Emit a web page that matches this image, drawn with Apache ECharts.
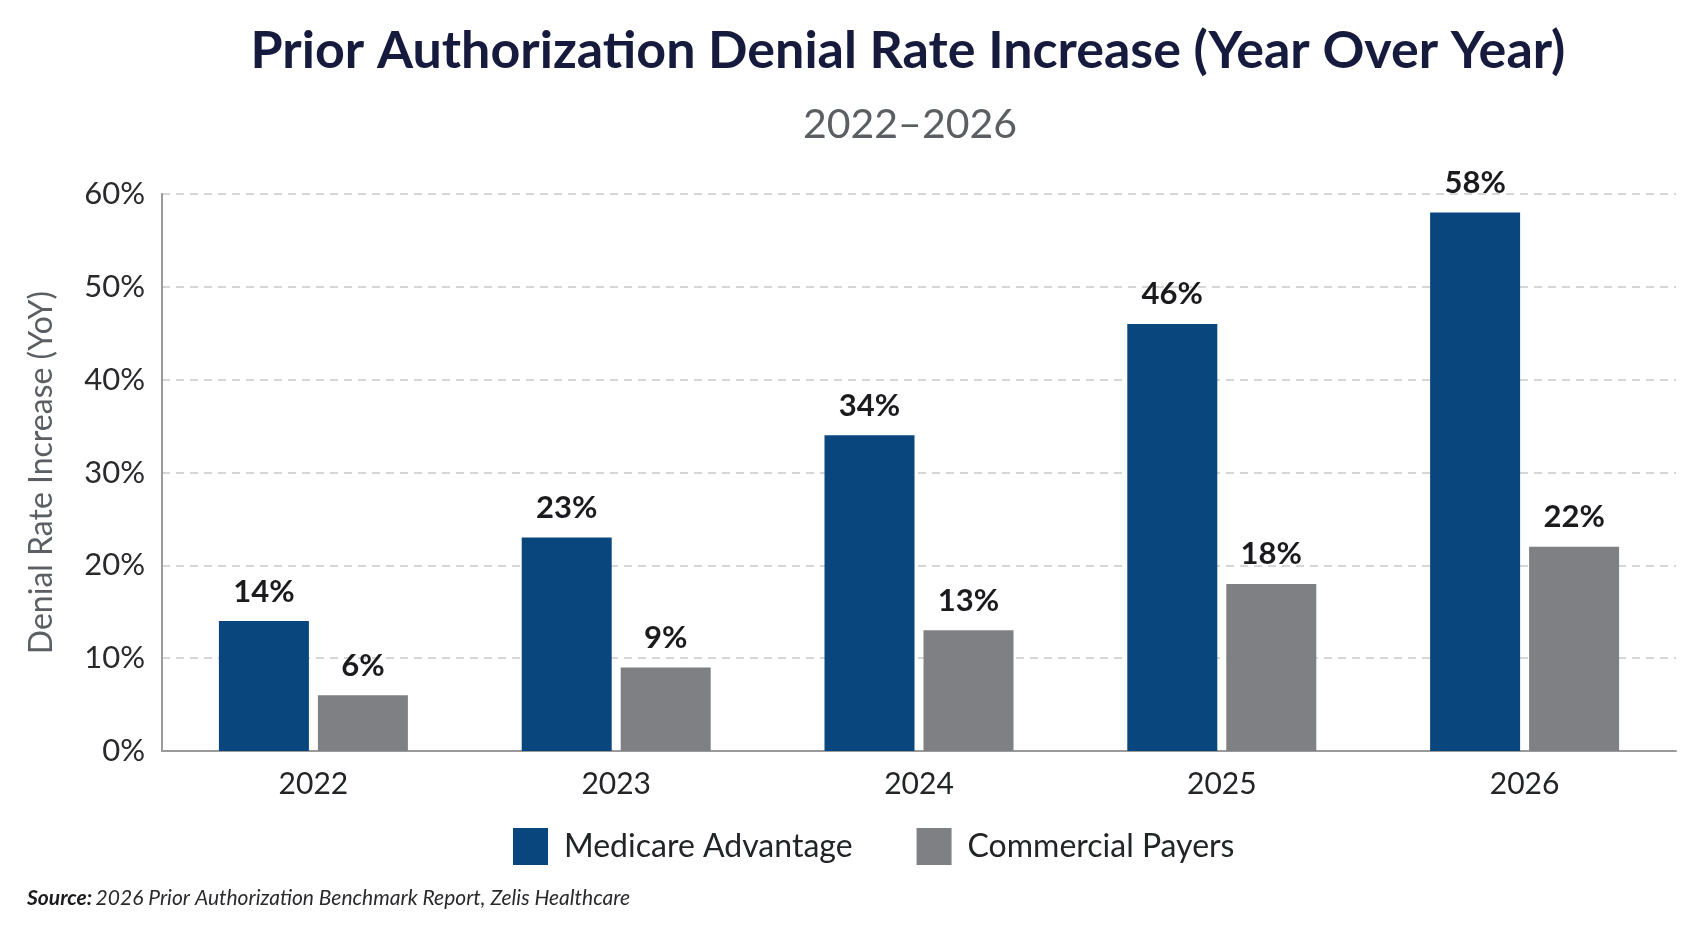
<!DOCTYPE html>
<html>
<head>
<meta charset="utf-8">
<script src="https://cdn.jsdelivr.net/npm/echarts@6/dist/echarts.min.js"></script>
<style>
html,body{margin:0;padding:0;background:#ffffff;}
#chart{width:1693px;height:929px;}
</style>
</head>
<body>
<div id="chart"></div>
<script>
const years = ['2022', '2023', '2024', '2025', '2026'];
const medicareAdvantage = [14, 23, 34, 46, 58];
const commercialPayers = [6, 9, 13, 18, 22];
const yTicks = [0, 10, 20, 30, 40, 50, 60];

const FONT = 'Lato';
const chart = echarts.init(document.getElementById('chart'));

const labelStyle = {
  show: true,
  position: 'top',
  distance: 14,
  formatter: '{c}%',
  fontFamily: FONT,
  fontSize: 31,
  fontWeight: 'bold',
  color: '#1b1b1f'
};

chart.setOption({
  backgroundColor: '#ffffff',
  title: [
    {
      text: 'Prior Authorization Denial Rate Increase (Year Over Year)',
      left: 903,
      top: 20,
      textAlign: 'center',
      textStyle: { fontFamily: FONT, fontSize: 52, fontWeight: 'bold', color: '#161b3d' }
    },
    {
      text: '2022–2026',
      left: 905,
      top: 99,
      textAlign: 'center',
      textStyle: { fontFamily: FONT, fontSize: 41, fontWeight: 'normal', color: '#5b5f64' }
    }
  ],
  legend: {
    left: 508,
    top: 823,
    itemWidth: 35,
    itemHeight: 37,
    itemGap: 64,
    icon: 'rect',
    textStyle: { fontFamily: FONT, fontSize: 32, color: '#222428', padding: [0, 0, 0, 11] },
    data: ['Medicare Advantage', 'Commercial Payers']
  },
  grid: { left: 162, right: 17, top: 194, bottom: 178, containLabel: false },
  xAxis: {
    type: 'category',
    data: years,
    axisTick: { show: false },
    axisLine: { show: true, lineStyle: { color: '#9a9a9a', width: 2 } },
    axisLabel: { fontFamily: FONT, fontSize: 30, color: '#222428', margin: 18 }
  },
  yAxis: {
    type: 'value',
    min: 0,
    max: 60,
    interval: 10,
    name: 'Denial Rate Increase (YoY)',
    nameLocation: 'middle',
    nameGap: 104,
    nameTextStyle: { fontFamily: FONT, fontSize: 32, color: '#5b5f64' },
    axisLine: { show: true, lineStyle: { color: '#9a9a9a', width: 2 } },
    axisTick: { show: false },
    axisLabel: {
      fontFamily: FONT, fontSize: 31, color: '#2a2a2e', margin: 17,
      formatter: v => (yTicks.indexOf(v) >= 0 ? v + '%' : '')
    },
    splitLine: { show: true, lineStyle: { color: '#c9c9c9', type: [8, 6], width: 1.5 } }
  },
  series: [
    {
      name: 'Medicare Advantage',
      type: 'bar',
      data: medicareAdvantage,
      barWidth: 90,
      barGap: '10%',
      itemStyle: { color: '#08467d' },
      label: labelStyle
    },
    {
      name: 'Commercial Payers',
      type: 'bar',
      data: commercialPayers,
      barWidth: 90,
      itemStyle: { color: '#7f8084' },
      label: labelStyle
    }
  ],
  graphic: [
    {
      type: 'text',
      left: 27,
      top: 888,
      style: {
        text: '{b|Source:} {i|2026 Prior Authorization Benchmark Report, Zelis Healthcare}',
        rich: {
          b: { fontFamily: FONT, fontSize: 21, fontStyle: 'italic', fontWeight: 'bold', fill: '#1b1b1f' },
          i: { fontFamily: FONT, fontSize: 21, fontStyle: 'italic', fill: '#2a2a2e' }
        }
      }
    }
  ]
});
</script>
</body>
</html>
